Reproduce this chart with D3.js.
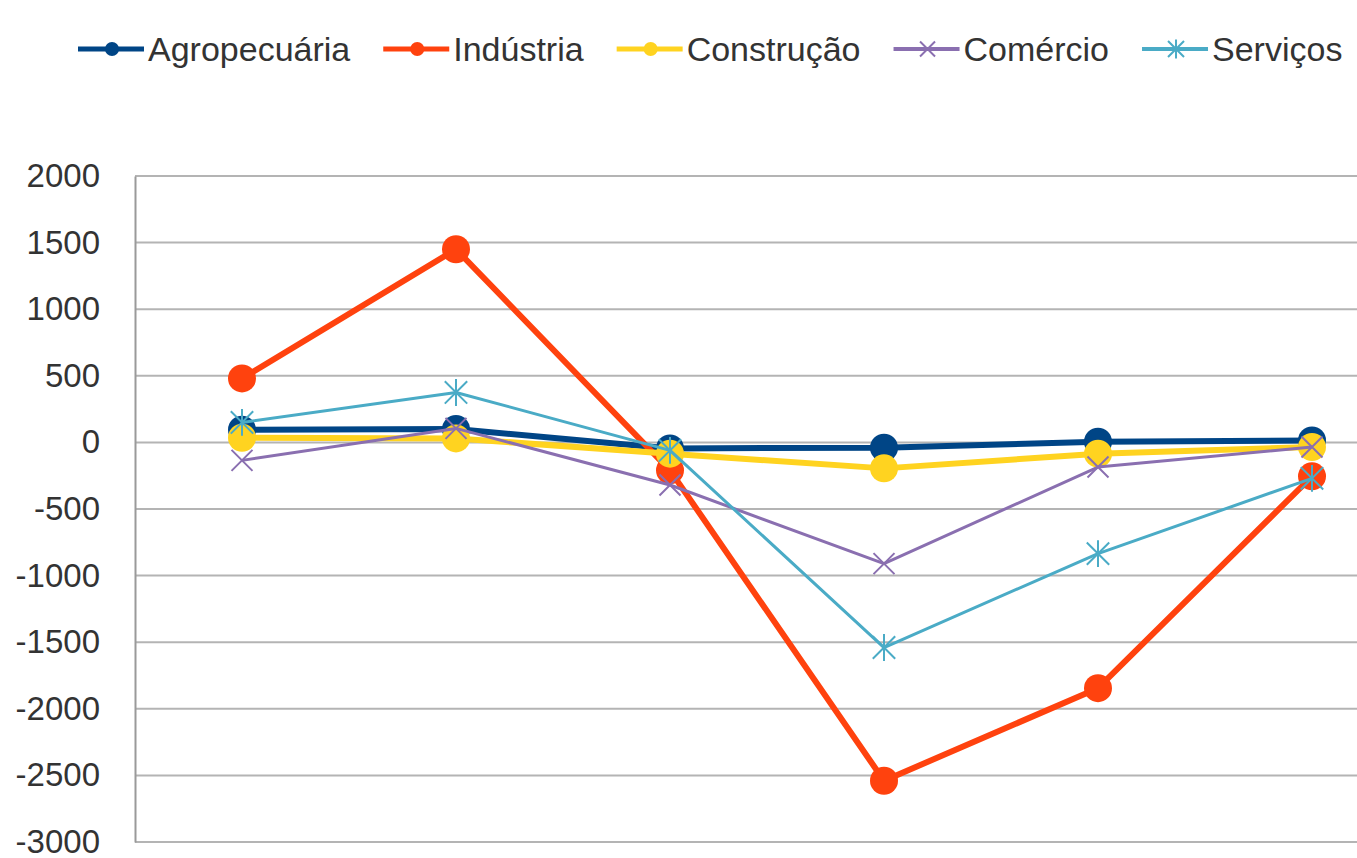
<!DOCTYPE html>
<html>
<head>
<meta charset="utf-8">
<script src="https://cdn.jsdelivr.net/npm/d3@7"></script>
<style>
  html, body { margin: 0; padding: 0; background: #fff; overflow: hidden; }
  svg { display: block; font-family: 'Liberation Sans', Arial, sans-serif; }
</style>
</head>
<body>
<svg id="chart" width="1357" height="858"></svg>
<script>
// categories are not labelled in the picture (cut off below the plot)
const categories = ['c1', 'c2', 'c3', 'c4', 'c5', 'c6']
const seriesNames = ['Agropecuária', 'Indústria', 'Construção', 'Comércio', 'Serviços']
const agropecuaria = [95, 100, -45, -40, 5, 15]
const industria = [480, 1450, -210, -2540, -1845, -255]
const construcao = [35, 30, -85, -195, -85, -35]
const comercio = [-135, 105, -320, -910, -185, -35]
const servicos = [150, 375, -60, -1540, -835, -270]
const yTicks = [2000, 1500, 1000, 500, 0, -500, -1000, -1500, -2000, -2500, -3000]

const colors = ['#004586', '#ff420e', '#ffd320', '#8a6fb0', '#4aabc6']
const markers = ['circle', 'circle', 'circle', 'cross', 'star']
const widths = [6, 6, 6, 3, 3]
const values = [agropecuaria, industria, construcao, comercio, servicos]

const margin = { left: 135, top: 176, bottom: 842 }
const svg = d3.select('#chart')

const x = d3.scaleBand().domain(categories).range([margin.left, margin.left + 6 * 214])
const y = d3.scaleLinear().domain([-3000, 2000]).range([margin.bottom, margin.top])

// grid
svg.append('g')
  .selectAll('line')
  .data(yTicks)
  .join('line')
  .attr('x1', margin.left)
  .attr('x2', x.range()[1])
  .attr('y1', (d) => y(d))
  .attr('y2', (d) => y(d))
  .attr('stroke', '#b4b4b4')
  .attr('stroke-width', 2)

// left axis, plain integer labels ("-3000")
const axis = svg.append('g')
  .attr('transform', `translate(${margin.left},0)`)
  .call(d3.axisLeft(y).tickValues(yTicks).tickSize(0).tickPadding(35).tickFormat((d) => String(d)))
axis.select('.domain').attr('stroke', '#9a9a9a').attr('stroke-width', 2)
axis.selectAll('text')
  .attr('font-size', 33)
  .attr('font-family', "'Liberation Sans', Arial, sans-serif")
  .attr('fill', '#333')

function drawMarker(g, type, color, cx, cy, size) {
  if (type === 'circle') {
    g.append('circle').attr('cx', cx).attr('cy', cy).attr('r', size)
      .attr('fill', color)
  } else if (type === 'cross') {
    const s = size * 0.75
    g.append('path')
      .attr('d', `M${cx - s},${cy - s}L${cx + s},${cy + s}M${cx - s},${cy + s}L${cx + s},${cy - s}`)
      .attr('stroke', color).attr('stroke-width', 2).attr('fill', 'none')
  } else {
    const s = size * 0.8
    g.append('path')
      .attr('d', `M${cx - s},${cy - s}L${cx + s},${cy + s}M${cx - s},${cy + s}L${cx + s},${cy - s}M${cx},${cy - s * 1.2}L${cx},${cy + s * 1.2}`)
      .attr('stroke', color).attr('stroke-width', 2).attr('fill', 'none')
  }
}

const line = d3.line()
  .x((d, i) => x(categories[i]) + x.bandwidth() / 2)
  .y((d) => y(d))

values.forEach((vals, k) => {
  const g = svg.append('g')
  g.append('path')
    .attr('d', line(vals))
    .attr('fill', 'none')
    .attr('stroke', colors[k])
    .attr('stroke-width', widths[k])
    .attr('stroke-linejoin', 'round')
  vals.forEach((v, i) => {
    drawMarker(g, markers[k], colors[k], x(categories[i]) + x.bandwidth() / 2, y(v), 14)
  })
})

// legend
const legend = svg.append('g')
let lx = 78
const ly = 49
seriesNames.forEach((name, k) => {
  const g = legend.append('g')
  g.append('line')
    .attr('x1', lx).attr('x2', lx + 66)
    .attr('y1', ly).attr('y2', ly)
    .attr('stroke', colors[k]).attr('stroke-width', widths[k] === 6 ? 5 : 4)
  drawMarker(g, markers[k], colors[k], lx + 34, ly, markers[k] === 'circle' ? 7 : 10)
  const t = g.append('text')
    .attr('x', lx + 70)
    .attr('y', ly + 12)
    .attr('font-size', 34)
    .attr('fill', '#333')
    .text(name)
  lx += 70 + t.node().getComputedTextLength() + 33
})
</script>
</body>
</html>
